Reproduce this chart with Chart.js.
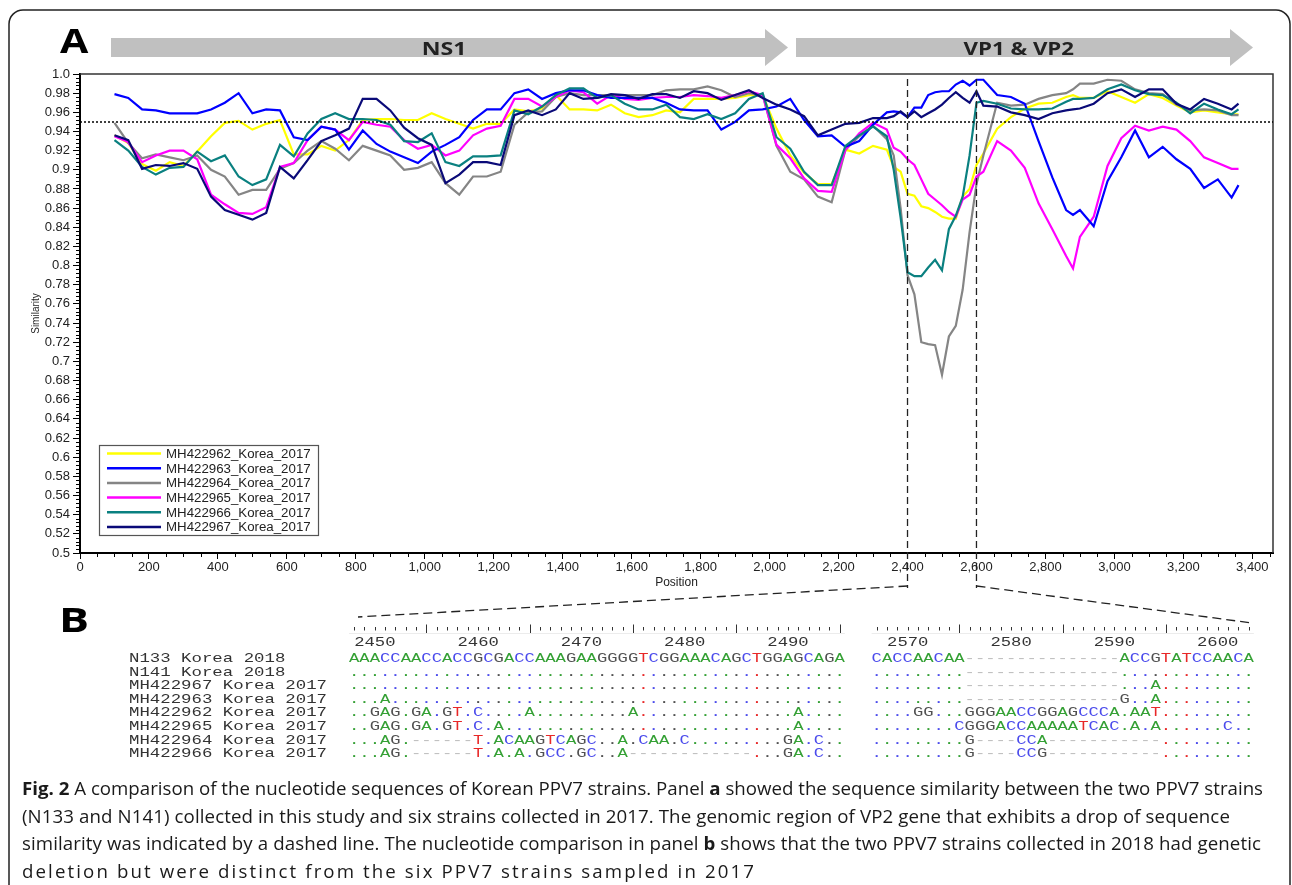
<!DOCTYPE html>
<html>
<head>
<meta charset="utf-8">
<script src="https://cdn.jsdelivr.net/npm/chart.js@4.4.1/dist/chart.umd.min.js"></script>
<style>
  html, body { margin: 0; padding: 0; background: #fff; }
</style>
</head>
<body>
<canvas id="fig" width="1292" height="885"></canvas>
<script>
// window positions (nt) shared by all six similarity curves
const positions = [
  100,140,180,220,260,300,340,380,420,460,500,540,580,620,660,700,740,
  780,820,860,900,940,980,1020,1060,1100,1140,1180,1220,1260,1300,1340,1380,1420,1460,
  1500,1540,1580,1620,1660,1700,1740,1780,1820,1860,1900,1940,1980,2020,2060,2100,2140,2180,
  2220,2260,2300,2340,
  2360,2380,2400,2420,2440,2460,2480,2500,2520,2540,2560,2580,2600,2620,
  2660,2700,2740,2780,2820,2860,2880,2900,
  2940,2980,3020,3060,3100,3140,3180,3220,3260,3300,3340,3360
];

const mh422962 = [
  0.936,0.928,0.906,0.899,0.908,0.904,0.919,0.935,0.949,0.951,0.942,0.948,0.952,0.916,0.916,0.925,0.920,
  0.931,0.952,0.953,0.953,0.952,0.952,0.959,0.953,0.948,0.943,0.948,0.948,0.963,0.961,0.964,0.978,0.963,0.963,
  0.962,0.968,0.959,0.955,0.957,0.962,0.960,0.974,0.974,0.974,0.975,0.978,0.978,0.943,0.915,0.897,0.885,0.885,
  0.921,0.917,0.925,0.921,
  0.903,0.898,0.875,0.873,0.862,0.860,0.856,0.851,0.849,0.849,0.872,0.880,0.905,0.917,
  0.943,0.955,0.964,0.969,0.970,0.976,0.978,0.975,
  0.975,0.982,0.976,0.970,0.979,0.975,0.967,0.960,0.962,0.960,0.958,0.958
];
const mh422963 = [
  0.979,0.975,0.963,0.962,0.959,0.959,0.959,0.963,0.970,0.980,0.959,0.963,0.962,0.934,0.931,0.945,0.942,
  0.921,0.941,0.927,0.919,0.913,0.907,0.919,0.926,0.934,0.952,0.963,0.963,0.980,0.984,0.974,0.980,0.983,0.983,
  0.978,0.975,0.975,0.975,0.975,0.970,0.963,0.962,0.962,0.942,0.950,0.962,0.963,0.966,0.974,0.952,0.935,0.936,
  0.924,0.930,0.947,0.960,
  0.961,0.960,0.955,0.965,0.965,0.978,0.981,0.982,0.982,0.989,0.993,0.988,0.994,0.994,
  0.978,0.976,0.969,0.930,0.892,0.858,0.853,0.858,
  0.841,0.888,0.913,0.941,0.913,0.924,0.911,0.901,0.881,0.890,0.871,0.884
];
const mh422964 = [
  0.949,0.928,0.912,0.916,0.913,0.910,0.915,0.900,0.893,0.874,0.879,0.879,0.901,0.907,0.920,0.930,0.922,
  0.910,0.925,0.920,0.915,0.900,0.902,0.908,0.886,0.874,0.893,0.893,0.898,0.947,0.960,0.961,0.976,0.980,0.978,
  0.978,0.978,0.978,0.978,0.978,0.983,0.984,0.984,0.987,0.983,0.976,0.980,0.978,0.925,0.898,0.890,0.872,0.866,
  0.921,0.935,0.946,0.932,
  0.915,0.860,0.790,0.770,0.720,0.718,0.717,0.686,0.726,0.737,0.775,0.835,0.885,0.915,
  0.970,0.967,0.968,0.974,0.978,0.980,0.984,0.990,
  0.990,0.994,0.993,0.984,0.980,0.979,0.968,0.962,0.963,0.962,0.957,0.957
];
const mh422965 = [
  0.935,0.929,0.908,0.915,0.920,0.920,0.911,0.874,0.864,0.855,0.854,0.861,0.903,0.907,0.931,0.945,0.942,
  0.931,0.950,0.947,0.945,0.931,0.922,0.926,0.915,0.920,0.936,0.943,0.946,0.974,0.974,0.966,0.976,0.983,0.981,
  0.969,0.978,0.974,0.973,0.975,0.976,0.976,0.978,0.977,0.975,0.978,0.982,0.978,0.926,0.912,0.891,0.878,0.877,
  0.921,0.938,0.949,0.942,
  0.923,0.919,0.911,0.905,0.890,0.875,0.869,0.863,0.856,0.851,0.869,0.874,0.893,0.898,
  0.930,0.920,0.902,0.865,0.838,0.810,0.797,0.830,
  0.851,0.904,0.933,0.946,0.941,0.945,0.942,0.930,0.913,0.907,0.901,0.901
];
const mh422966 = [
  0.931,0.920,0.903,0.895,0.902,0.903,0.919,0.909,0.915,0.893,0.884,0.890,0.926,0.914,0.938,0.953,0.959,
  0.953,0.953,0.952,0.947,0.930,0.929,0.938,0.908,0.904,0.914,0.914,0.915,0.962,0.958,0.966,0.978,0.985,0.985,
  0.975,0.978,0.969,0.963,0.963,0.968,0.955,0.953,0.958,0.953,0.959,0.974,0.980,0.934,0.922,0.898,0.884,0.884,
  0.925,0.936,0.945,0.935,
  0.900,0.850,0.793,0.789,0.789,0.798,0.806,0.795,0.838,0.852,0.872,0.915,0.970,0.972,
  0.969,0.964,0.963,0.963,0.964,0.971,0.974,0.974,
  0.975,0.984,0.989,0.983,0.979,0.978,0.970,0.959,0.969,0.963,0.958,0.963
];
const mh422967 = [
  0.936,0.931,0.901,0.905,0.904,0.907,0.901,0.872,0.858,0.853,0.848,0.855,0.903,0.891,0.910,0.930,0.936,
  0.943,0.974,0.974,0.962,0.944,0.933,0.926,0.886,0.895,0.908,0.908,0.905,0.957,0.962,0.957,0.963,0.980,0.974,
  0.975,0.979,0.978,0.974,0.979,0.979,0.975,0.982,0.980,0.973,0.978,0.983,0.975,0.968,0.963,0.956,0.936,0.942,
  0.948,0.949,0.954,0.954,
  0.956,0.961,0.955,0.961,0.955,0.959,0.963,0.968,0.975,0.981,0.975,0.970,0.982,0.967,
  0.966,0.960,0.957,0.953,0.959,0.962,0.963,0.964,
  0.969,0.980,0.984,0.976,0.984,0.984,0.969,0.963,0.974,0.969,0.963,0.969
];

const seriesNames = ['MH422962_Korea_2017','MH422963_Korea_2017','MH422964_Korea_2017',
                     'MH422965_Korea_2017','MH422966_Korea_2017','MH422967_Korea_2017'];
const seriesValues = [mh422962, mh422963, mh422964, mh422965, mh422966, mh422967];
const seriesColors = ['#ffff00','#0000ff','#858585','#ff00ff','#0a8080','#0a0a78'];
const drawOrder = [5, 2, 4, 3, 1, 0];

const xTicks = [0,200,400,600,800,1000,1200,1400,1600,1800,2000,2200,2400,2600,2800,3000,3200,3400];
const yTicks = [0.5,0.52,0.54,0.56,0.58,0.6,0.62,0.64,0.66,0.68,0.7,0.72,0.74,0.76,0.78,
                0.8,0.82,0.84,0.86,0.88,0.9,0.92,0.94,0.96,0.98,1.0];
const threshold = 0.95;
const regionStart = 2400, regionEnd = 2600;

// panel B alignment
const alignNames = ['N133 Korea 2018','N141 Korea 2018','MH422967 Korea 2017','MH422963 Korea 2017',
                    'MH422962 Korea 2017','MH422965 Korea 2017','MH422964 Korea 2017','MH422966 Korea 2017'];
const block1Start = 2448, block2Start = 2567;
const alignBlock1 = [
  'AAACCAACCACCGCGACCAAAGAAGGGGTCGGAAACAGCTGGAGCAGA',
  '.'.repeat(48),
  '.'.repeat(48),
  '...A' + '.'.repeat(44),
  '..GAG.GA.GT.C' + '....' + 'A' + '.'.repeat(9) + 'A' + '.'.repeat(15) + 'A' + '....',
  '..GAG.GA.GT.C' + '.A' + '.'.repeat(28) + 'A' + '....',
  '...AG.' + '------' + 'T' + '.ACAAGTCAGC' + '..A.CAA.' + 'C' + '.'.repeat(9) + 'GA.C..',
  '...AG.' + '------' + 'T' + '.A.A.GCC.GC..A' + '-'.repeat(12) + '...GA.C..'
];
const alignBlock2 = [
  'CACCAACAA' + '-'.repeat(15) + 'ACCGTATCCAACA',
  '.'.repeat(9) + '-'.repeat(15) + '.'.repeat(13),
  '.'.repeat(9) + '-'.repeat(15) + '...A' + '.'.repeat(9),
  '.'.repeat(9) + '-'.repeat(15) + 'G..A' + '.'.repeat(9),
  '....GG...' + 'GGGAACCGGAGCCCA' + '.AAT' + '.'.repeat(9),
  '........' + 'CGGGACCAAAAATCAC' + '.A.A' + '......' + 'C..',
  '.'.repeat(9) + 'G' + '----' + 'CCA' + '-'.repeat(11) + '.'.repeat(9),
  '.'.repeat(9) + 'G' + '----' + 'CCG' + '-'.repeat(11) + '.'.repeat(9)
];
const baseColors = { A: '#34a034', C: '#4b4bec', G: '#505050', T: '#e82828' };

const caption = [
  [{t:'Fig. 2', b:true}, {t:' A comparison of the nucleotide sequences of Korean PPV7 strains. Panel '}, {t:'a', b:true},
   {t:' showed the sequence similarity between the two PPV7 strains'}],
  [{t:'(N133 and N141) collected in this study and six strains collected in 2017. The genomic region of VP2 gene that exhibits a drop of sequence'}],
  [{t:'similarity was indicated by a dashed line. The nucleotide comparison in panel '}, {t:'b', b:true},
   {t:' shows that the two PPV7 strains collected in 2018 had genetic'}],
  [{t:'deletion but were distinct from the six PPV7 strains sampled in 2017'}]
];
const captionRight = [1263, 1230, 1261, 756];

const SANS = '"Liberation Sans", Arial, sans-serif';
const MONO = '"Liberation Mono", "DejaVu Sans Mono", monospace';
const OPEN = '"Open Sans", "Noto Sans", sans-serif';
Chart.defaults.font.family = SANS;

// draw text so that its ink spans left..right
function fitInk(ctx, txt, left, right, baseline) {
  const m = ctx.measureText(txt);
  const w = m.actualBoundingBoxLeft + m.actualBoundingBoxRight;
  ctx.save();
  ctx.translate(left, baseline);
  ctx.scale((right - left) / w, 1);
  ctx.textAlign = 'left';
  ctx.fillText(txt, m.actualBoundingBoxLeft, 0);
  ctx.restore();
}

function segWidths(ctx, segs, size) {
  let total = 0, chars = 0;
  segs.forEach(s => {
    ctx.font = (s.b ? 'bold ' : '') + size + 'px ' + OPEN;
    s.w = ctx.measureText(s.t).width;
    total += s.w;
    chars += s.t.length;
  });
  return { total, chars };
}

// caption line: glyphs squeezed by sx, then letter spacing makes up the line width
function richLine(ctx, segs, left, right, baseline, size, sx) {
  const { total, chars } = segWidths(ctx, segs, size);
  const ls = Math.max(0, ((right - left) / sx - total) / chars);
  ctx.save();
  ctx.translate(left, baseline);
  ctx.scale(sx, 1);
  ctx.textAlign = 'left';
  ctx.letterSpacing = ls + 'px';
  let x = 0;
  segs.forEach(s => {
    ctx.font = (s.b ? 'bold ' : '') + size + 'px ' + OPEN;
    ctx.fillText(s.t, x, 0);
    x += s.w + s.t.length * ls;
  });
  ctx.letterSpacing = '0px';
  ctx.restore();
}

function arrow(ctx, x0, xHead, xTip) {
  ctx.beginPath();
  ctx.moveTo(x0, 38); ctx.lineTo(xHead, 38); ctx.lineTo(xHead, 29);
  ctx.lineTo(xTip, 47.5); ctx.lineTo(xHead, 66); ctx.lineTo(xHead, 57);
  ctx.lineTo(x0, 57); ctx.closePath();
  ctx.fill();
}

const pitch = 10.33;
const monoScale = pitch / (13 * 0.6);
const rowY = [659, 672.5, 686, 699.5, 713, 727, 740.5, 754];

function drawBlock(ctx, rows, x0, startPos) {
  const ref = rows[0];
  // ruler
  ctx.fillStyle = '#ececec';
  ctx.fillRect(x0, 633, rows[0].length * pitch, 1);
  ctx.strokeStyle = '#333';
  ctx.lineWidth = 1;
  for (let i = 0; i < ref.length; i++) {
    const p = startPos + i;
    const cx = Math.round(x0 + (i + 0.5) * pitch) + 0.5;
    ctx.beginPath();
    if (p % 10 === 5) { ctx.moveTo(cx, 624.5); ctx.lineTo(cx, 633); }
    else { ctx.moveTo(cx, 627); ctx.lineTo(cx, 630.5); }
    ctx.stroke();
    if (p % 10 === 0) {
      ctx.save();
      ctx.fillStyle = '#333';
      ctx.font = '13px ' + MONO;
      ctx.textAlign = 'center';
      ctx.textBaseline = 'middle';
      ctx.translate(x0 + (i + 0.5) * pitch, 643);
      ctx.scale(monoScale, 1);
      ctx.fillText(String(p), 0, 0);
      ctx.restore();
    }
  }
  ctx.font = '13px ' + MONO;
  ctx.textAlign = 'center';
  ctx.textBaseline = 'middle';
  rows.forEach((row, r) => {
    for (let i = 0; i < row.length; i++) {
      const ch = row[i];
      let col;
      if (ch === '-') col = '#bdbdbd';
      else if (ch === '.') col = baseColors[ref[i]] || '#888';
      else col = baseColors[ch] || '#333';
      ctx.fillStyle = col;
      ctx.save();
      ctx.translate(x0 + (i + 0.5) * pitch, rowY[r]);
      ctx.scale(monoScale, 1);
      ctx.fillText(ch, 0, 0);
      ctx.restore();
    }
  });
}

const figPlugin = {
  id: 'fig',
  beforeDraw(chart) {
    const ctx = chart.ctx;
    ctx.save();
    ctx.fillStyle = '#fff';
    ctx.fillRect(0, 0, chart.width, chart.height);
    ctx.restore();
  },
  afterDatasetsDraw(chart) {
    const ctx = chart.ctx;
    const a = chart.chartArea;
    const xs = chart.scales.x, ys = chart.scales.y;
    ctx.save();
    // plot frame (top and right)
    ctx.strokeStyle = '#333';
    ctx.lineWidth = 1.5;
    ctx.beginPath();
    ctx.moveTo(a.left, a.top); ctx.lineTo(a.right, a.top); ctx.lineTo(a.right, a.bottom);
    ctx.stroke();
    // 0.95 dotted threshold
    const yT = ys.getPixelForValue(threshold);
    ctx.strokeStyle = '#000';
    ctx.lineWidth = 1.5;
    ctx.setLineDash([2, 2]);
    ctx.beginPath(); ctx.moveTo(a.left, yT); ctx.lineTo(a.right, yT); ctx.stroke();
    // minor ticks
    ctx.setLineDash([]);
    ctx.lineWidth = 1;
    ctx.strokeStyle = '#000';
    for (let v = 50; v < xs.max; v += 50) {
      if (v % 200 === 0) continue;
      const px = Math.round(xs.getPixelForValue(v)) + 0.5;
      ctx.beginPath(); ctx.moveTo(px, a.bottom); ctx.lineTo(px, a.bottom + 4); ctx.stroke();
    }
    for (let k = 0; k < 125; k++) {
      if (k % 5 === 0) continue;
      const py = Math.round(ys.getPixelForValue(0.5 + k * 0.004)) + 0.5;
      ctx.beginPath(); ctx.moveTo(a.left - 4, py); ctx.lineTo(a.left, py); ctx.stroke();
    }
    ctx.restore();
  },
  afterDraw(chart) {
    const ctx = chart.ctx;
    const xs = chart.scales.x;
    ctx.save();

    // zoomed region: dashed verticals and connectors to panel B
    const x1 = xs.getPixelForValue(regionStart), x2 = xs.getPixelForValue(regionEnd);
    ctx.strokeStyle = '#222';
    ctx.lineWidth = 1.3;
    ctx.setLineDash([7, 4]);
    ctx.beginPath();
    ctx.moveTo(x1, 79); ctx.lineTo(x1, 588);
    ctx.moveTo(x2, 79); ctx.lineTo(x2, 588);
    ctx.stroke();
    ctx.setLineDash([9, 5]);
    ctx.beginPath();
    ctx.moveTo(x1, 586); ctx.lineTo(358, 617);
    ctx.moveTo(x2, 586); ctx.lineTo(1252, 623);
    ctx.stroke();
    ctx.setLineDash([]);

    // legend
    ctx.fillStyle = '#fff';
    ctx.fillRect(99, 445, 219, 90);
    ctx.strokeStyle = '#555';
    ctx.lineWidth = 1.2;
    ctx.strokeRect(99.5, 445.5, 219, 90);
    chart.data.datasets.forEach((ds, i) => {
      const y = 453.5 + i * 14.7;
      ctx.strokeStyle = ds.borderColor;
      ctx.lineWidth = 2.5;
      ctx.beginPath(); ctx.moveTo(107, y); ctx.lineTo(161, y); ctx.stroke();
      ctx.fillStyle = '#222';
      ctx.font = '12px ' + SANS;
      ctx.textBaseline = 'alphabetic';
      fitInk(ctx, ds.label, 166, 311, y + 4.3);
    });

    // header: panel letter and gene arrows
    ctx.fillStyle = '#000';
    ctx.font = 'bold 34px ' + OPEN;
    fitInk(ctx, 'A', 60, 89, 53);
    ctx.fillStyle = '#c0c0c0';
    arrow(ctx, 111, 765, 788);
    arrow(ctx, 796, 1230, 1253);
    ctx.fillStyle = '#222';
    ctx.font = 'bold 18px ' + OPEN;
    fitInk(ctx, 'NS1', 423, 463.5, 55);
    fitInk(ctx, 'VP1 & VP2', 963.5, 1073.7, 55);

    // panel B
    ctx.fillStyle = '#000';
    ctx.font = 'bold 34px ' + OPEN;
    fitInk(ctx, 'B', 63, 88, 632);
    ctx.fillStyle = '#333';
    ctx.font = '13px ' + MONO;
    ctx.textAlign = 'left';
    ctx.textBaseline = 'middle';
    alignNames.forEach((n, r) => {
      ctx.save();
      ctx.translate(129, rowY[r]);
      ctx.scale(10.42 / 7.8, 1);
      ctx.fillText(n, 0, 0);
      ctx.restore();
    });
    drawBlock(ctx, alignBlock1, 349, block1Start);
    drawBlock(ctx, alignBlock2, 871.6, block2Start);

    // caption
    ctx.fillStyle = '#1a1a1a';
    ctx.textAlign = 'left';
    ctx.textBaseline = 'alphabetic';
    const capSize = 18;
    const sx = (1263 - 22) / segWidths(ctx, caption[0], capSize).total;
    caption.forEach((segs, i) => richLine(ctx, segs, 22, captionRight[i], 795 + i * 27.5, capSize, sx));

    // outer frame
    ctx.strokeStyle = '#222';
    ctx.lineWidth = 1.5;
    ctx.beginPath();
    ctx.roundRect(9, 10, 1281, 900, 14);
    ctx.stroke();
    ctx.restore();
  }
};

const datasets = seriesNames.map((name, i) => ({
  label: name,
  data: positions.map((p, k) => ({ x: p, y: seriesValues[i][k] })),
  borderColor: seriesColors[i],
  backgroundColor: seriesColors[i],
  borderWidth: 2.2,
  pointRadius: 0,
  tension: 0,
  fill: false,
  order: drawOrder[i]
}));

new Chart(document.getElementById('fig'), {
  type: 'line',
  data: { datasets },
  plugins: [figPlugin],
  options: {
    responsive: false,
    devicePixelRatio: 1,
    animation: false,
    events: [],
    layout: { padding: { left: 30, top: 74, right: 19, bottom: 292 } },
    plugins: { legend: { display: false }, tooltip: { enabled: false } },
    scales: {
      x: {
        type: 'linear',
        min: 0,
        max: 3460,
        afterFit: s => { s.height = 40; },
        afterBuildTicks: s => { s.ticks = xTicks.map(v => ({ value: v })); },
        ticks: {
          autoSkip: false, maxRotation: 0, padding: 1,
          color: '#222', font: { size: 13 },
          callback: v => v.toLocaleString('en-US')
        },
        grid: { drawOnChartArea: false, drawTicks: true, tickLength: 6, tickColor: '#000', tickWidth: 1 },
        border: { display: true, color: '#000', width: 2 },
        title: { display: true, text: 'Position', color: '#222', font: { size: 12 }, padding: { top: 0, bottom: 3 } }
      },
      y: {
        type: 'linear',
        min: 0.5,
        max: 1.0,
        afterFit: s => { s.width = 50; },
        afterBuildTicks: s => { s.ticks = yTicks.map(v => ({ value: v })); },
        ticks: {
          autoSkip: false, padding: 3,
          color: '#222', font: { size: 13 },
          callback: v => (v === 1 ? '1.0' : String(+v.toFixed(2)))
        },
        grid: { drawOnChartArea: false, drawTicks: true, tickLength: 7, tickColor: '#000', tickWidth: 1 },
        border: { display: true, color: '#000', width: 2 },
        title: { display: true, text: 'Similarity', color: '#222', font: { size: 10 }, padding: { top: 0, bottom: 0 } }
      }
    }
  }
});
</script>
</body>
</html>
